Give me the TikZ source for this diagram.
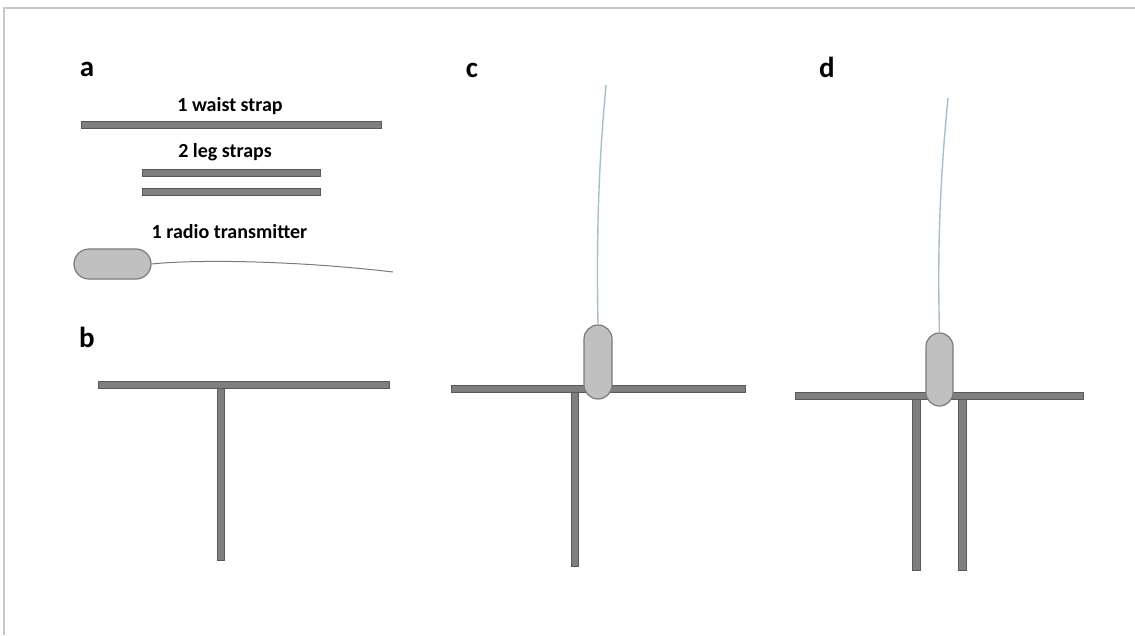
\documentclass[tikz,border=0pt]{standalone}
\usepackage{fontspec}
\setmainfont{Carlito}
\definecolor{strapfill}{HTML}{7F7F7F}
\definecolor{strapline}{HTML}{595959}
\definecolor{txfill}{HTML}{C0C0C0}
\definecolor{txline}{HTML}{7A7A7A}
\definecolor{wire}{HTML}{A8BFCB}
\definecolor{frame}{HTML}{C8C8C8}

\begin{document}
\begin{tikzpicture}[x=1pt, y=-1pt,
    strap/.style={draw=strapline, fill=strapfill, line width=1pt, inner sep=0pt, rectangle},
    tx/.style={draw=txline, fill=txfill, line width=1.2pt, inner sep=0pt, rectangle},
    panel/.style={anchor=base, font=\fontsize{29}{30}\selectfont\bfseries},
    caption/.style={anchor=base, font=\fontsize{20}{22}\selectfont\bfseries}]
  \useasboundingbox (0,0) rectangle (1135,635);
  \draw[frame, line width=2pt] (1136,8) -- (4,8) -- (4,635);

  % a
  \node[panel] (la) at (87,76) {a};
  \node[caption] (twaist) at (230,111) {1 waist strap};
  \node[strap, minimum width=300pt, minimum height=7pt] (waistA) at (231.5,124.5) {};
  \node[caption] (tleg) at (225,157) {2 leg straps};
  \node[strap, minimum width=178pt, minimum height=7pt] (legA1) at (231,172.5) {};
  \node[strap, minimum width=178pt, minimum height=7pt] (legA2) at (231,192) {};
  \node[caption] (ttx) at (229.5,238) {1 radio transmitter};
  \node[tx, rounded corners=15pt, minimum width=77pt, minimum height=30pt] (txA) at (112.5,264) {};
  \coordinate (endA) at (393,272);
  \draw[strapline!80, line width=1pt] (txA.east) .. controls (200,259) and (300,261) .. (endA);

  % b
  \node[panel] (lb) at (87,347) {b};
  \node[strap, minimum width=291pt, minimum height=7pt] (waistB) at (243.5,384.5) {};
  \node[strap, minimum width=7pt, minimum height=172pt] (legB) at (220.5,474) {};

  % c
  \node[panel] (lc) at (472,77) {c};
  \node[strap, minimum width=294pt, minimum height=7pt] (waistC) at (598,388.5) {};
  \node[strap, minimum width=7pt, minimum height=174pt] (legC) at (574.5,479) {};
  \node[tx, rounded corners=14pt, minimum width=28pt, minimum height=74pt] (txC) at (598,362) {};
  \coordinate (endC) at (606,85);
  \draw[wire, line width=1.4pt] (txC.north) .. controls (596,220) and (600,150) .. (endC);

  % d
  \node[panel] (ld) at (827,77) {d};
  \node[strap, minimum width=288pt, minimum height=7pt] (waistD) at (939,396) {};
  \node[strap, minimum width=8pt, minimum height=171pt] (legD1) at (916,484.5) {};
  \node[strap, minimum width=8pt, minimum height=171pt] (legD2) at (962,484.5) {};
  \node[tx, rounded corners=13.5pt, minimum width=27pt, minimum height=73pt] (txD) at (939.5,369.5) {};
  \coordinate (endD) at (948,98);
  \draw[wire, line width=1.4pt] (txD.north) .. controls (937,240) and (941,170) .. (endD);
\end{tikzpicture}
\end{document}
